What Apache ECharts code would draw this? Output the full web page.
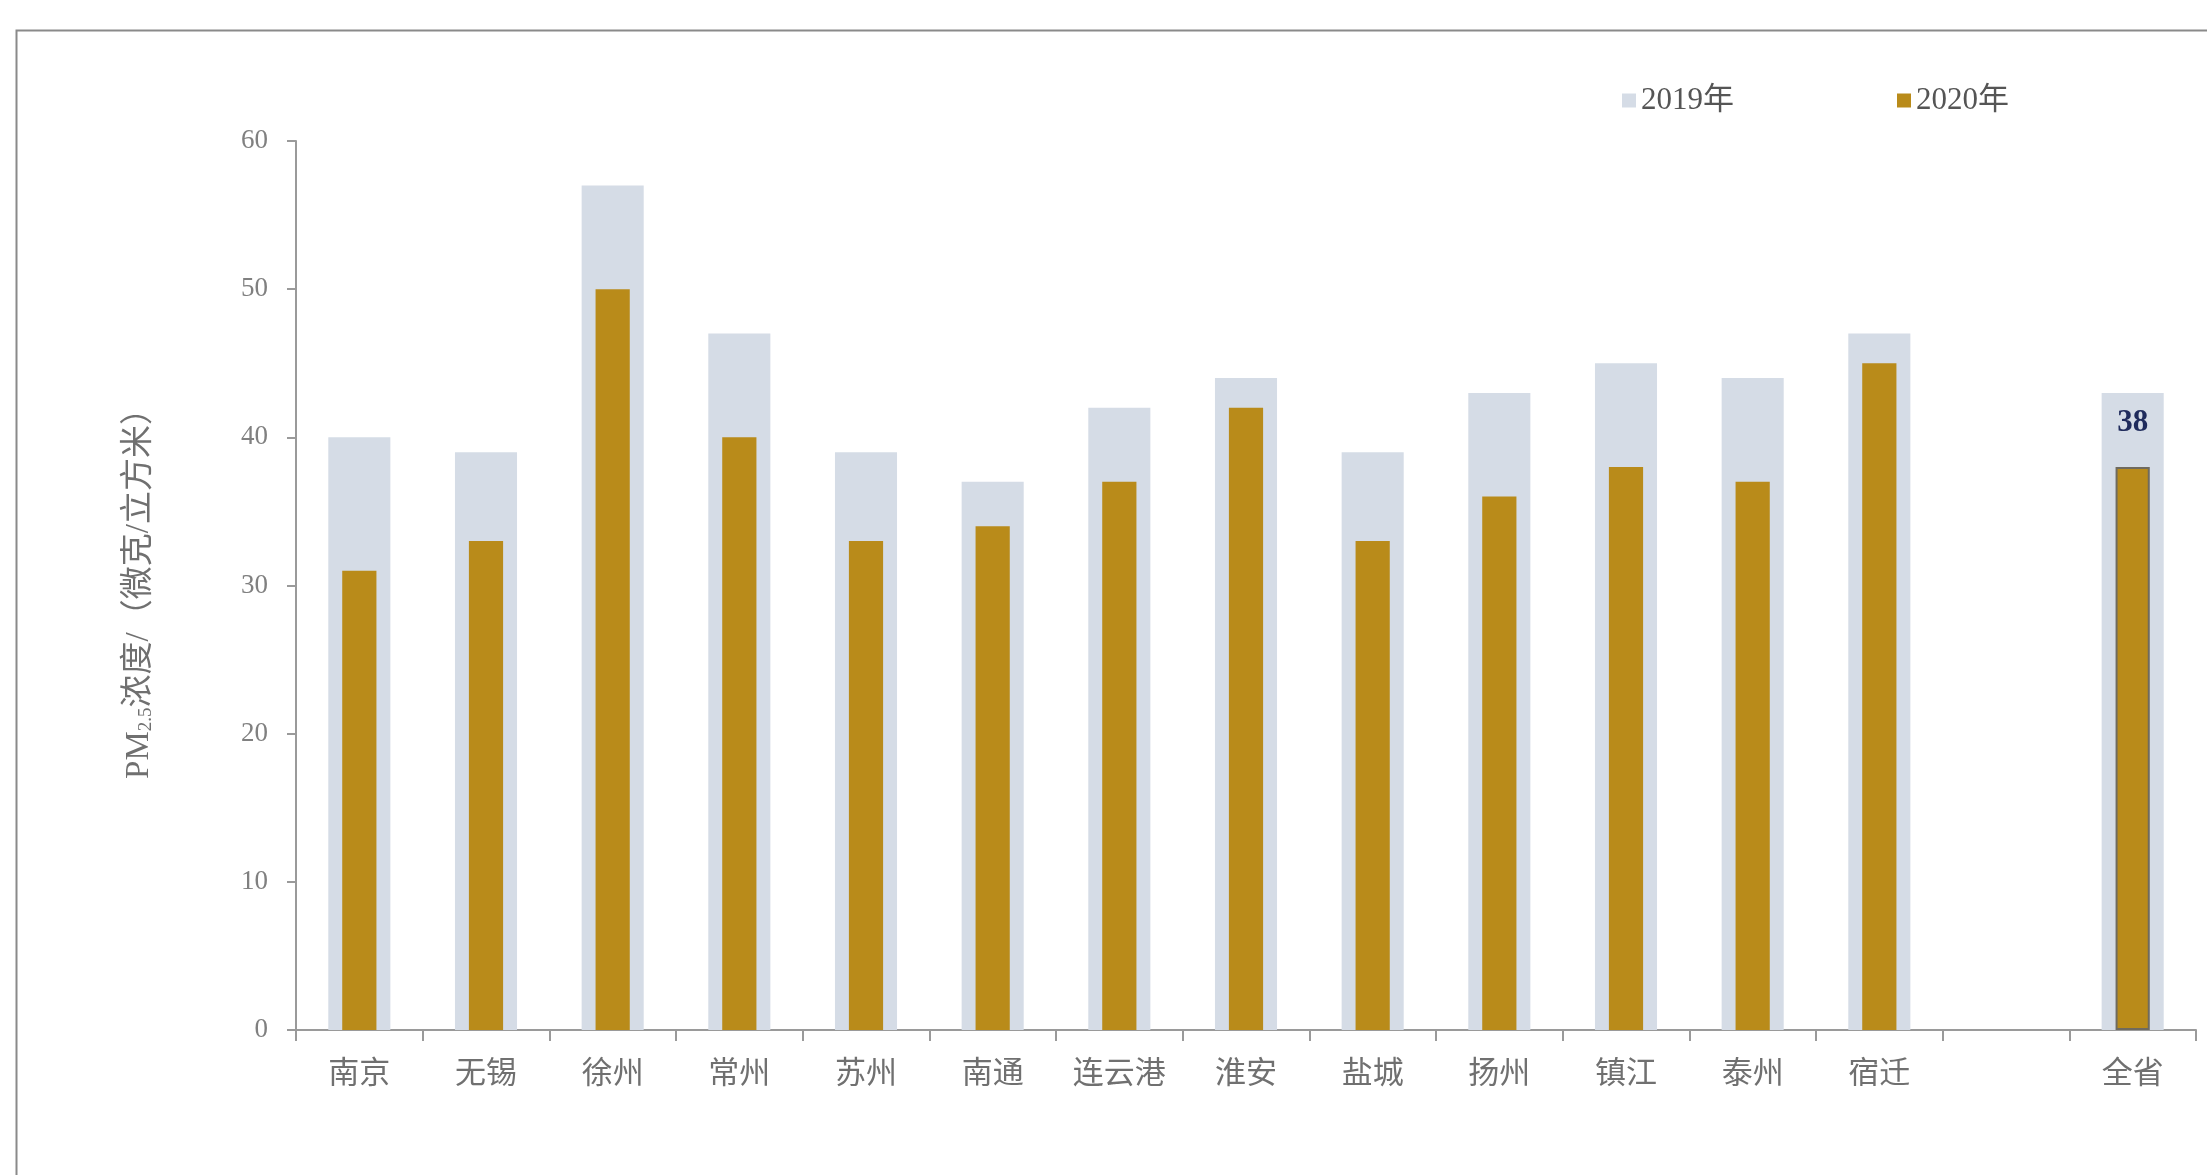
<!DOCTYPE html>
<html>
<head>
<meta charset="utf-8">
<script src="https://cdn.jsdelivr.net/npm/echarts@6/dist/echarts.min.js"></script>
<style>html,body{margin:0;padding:0;background:#fff;}#c{width:2207px;height:1175px;}</style>
</head>
<body>
<div id="c"></div>
<script>
const categories = ['南京','无锡','徐州','常州','苏州','南通','连云港','淮安','盐城','扬州','镇江','泰州','宿迁','','全省'];
const values2019 = [40,39,57,47,39,37,42,44,39,43,45,44,47,null,43];
const values2020 = [31,33,50,40,33,34,37,42,33,36,38,37,45,null,38];
const yTicks = [0,10,20,30,40,50,60];
const seriesNames = ['2019年','2020年'];
const labelledCategory = '全省';

const serif = '"Liberation Serif","Noto Sans CJK SC",serif';
const chart = echarts.init(document.getElementById('c'));
const data2020 = values2020.map((v,i)=> categories[i]===labelledCategory ? {
  value: v,
  itemStyle: {borderColor:'#6f6a5e', borderWidth:2},
  label: {show:true, position:'top', distance:28, formatter:'{c}', color:'#1f2b5c', fontWeight:'bold', fontSize:31, fontFamily:serif}
} : v);

chart.setOption({
  animation:false,
  backgroundColor:'#fff',
  graphic:[{type:'rect', left:14, top:28, shape:{width:2260, height:1220}, style:{fill:'none', stroke:'#8a8a8a', lineWidth:2}, silent:true}],
  legend:{
    data:seriesNames, left:1617, top:80, itemWidth:14, itemHeight:14, itemGap:163,
    icon:'rect',
    textStyle:{fontFamily:serif, fontSize:31, color:'#555'}
  },
  grid:{left:296, right:11, top:141, bottom:145},
  xAxis:[{
    type:'category', data:categories,
    axisLine:{lineStyle:{color:'#9a9a9a', width:2}},
    axisTick:{show:true, length:11, lineStyle:{color:'#9a9a9a', width:2}, alignWithLabel:false},
    axisLabel:{fontFamily:serif, fontSize:31, color:'#707070', margin:29, interval:0}
  },{
    type:'category', data:categories, show:false
  }],
  yAxis:{
    type:'value', min:0, max:60, interval:10,
    splitLine:{show:false},
    axisLine:{show:true, lineStyle:{color:'#9a9a9a', width:2}},
    axisTick:{show:true, length:9, lineStyle:{color:'#9a9a9a', width:2}},
    axisLabel:{fontFamily:serif, fontSize:27, color:'#808080', margin:28,
      formatter:(v)=> yTicks.indexOf(v)>=0 ? String(v) : ''},
    name:'{a|PM}{s|2.5}{a|浓度/（微克/立方米）}',
    nameLocation:'middle', nameGap:140, nameRotate:90,
    nameTextStyle:{
      rich:{
        a:{fontFamily:serif, fontSize:33, color:'#707070'},
        s:{fontFamily:serif, fontSize:19, color:'#707070', verticalAlign:'bottom', padding:[14,0,0,0]}
      }
    }
  },
  series:[
    {name:seriesNames[0], type:'bar', xAxisIndex:0, data:values2019, barWidth:'49%', itemStyle:{color:'#d5dce6'}, z:1},
    {name:seriesNames[1], type:'bar', xAxisIndex:1, data:data2020, barWidth:'27%', itemStyle:{color:'#b98b1a'}, z:2}
  ]
});
</script>
</body>
</html>
